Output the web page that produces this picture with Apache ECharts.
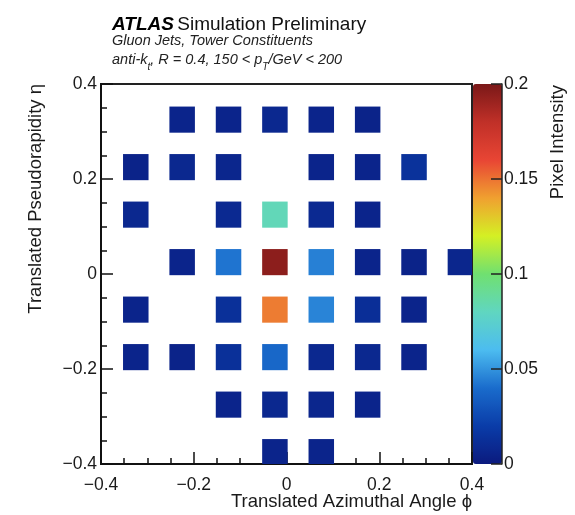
<!DOCTYPE html>
<html>
<head>
<meta charset="utf-8">
<script src="https://cdn.jsdelivr.net/npm/echarts@6/dist/echarts.min.js"></script>
<style>
  html, body { margin: 0; padding: 0; background: #fff; }
  #chart { width: 575px; height: 515px; }
</style>
</head>
<body>
<div id="chart"></div>
<script>
// tower centres (translated phi / eta)
const phiBins = [-0.325, -0.225, -0.125, -0.025, 0.075, 0.175, 0.275, 0.375];
const etaBins = [0.325, 0.225, 0.125, 0.025, -0.075, -0.175, -0.275, -0.375];
const cellSize = 0.055;

// pixel intensity, one row per eta bin (top to bottom), null = empty
const row1 = [null, 0.006, 0.006, 0.008, 0.006, 0.005, null, null];
const row2 = [0.005, 0.008, 0.007, null, 0.006, 0.006, 0.014, null];
const row3 = [0.008, null, 0.009, 0.082, 0.009, 0.006, null, null];
const row4 = [null, 0.006, 0.042, 0.195, 0.045, 0.006, 0.005, 0.007];
const row5 = [0.006, null, 0.013, 0.148, 0.046, 0.012, 0.006, null];
const row6 = [0.006, 0.005, 0.013, 0.038, 0.008, 0.008, 0.006, null];
const row7 = [null, null, 0.006, 0.008, 0.007, 0.006, null, null];
const row8 = [null, null, null, 0.006, 0.006, null, null, null];
const intensity = [row1, row2, row3, row4, row5, row6, row7, row8];

const axisTicks = [-0.4, -0.2, 0, 0.2, 0.4];
const zTicks = [0, 0.05, 0.1, 0.15, 0.2];

// palette from 0 to 0.2
const palette = ['#0b1a7e', '#0a3ca8', '#1a6ccc', '#4cbcf0', '#60d6c0', '#70e070',
  '#d4f024', '#f0a030', '#e84534', '#c03028', '#7a1818'];

const cells = [];
etaBins.forEach((eta, i) => {
  phiBins.forEach((phi, j) => {
    const v = intensity[i][j];
    if (v !== null) cells.push([phi, eta, v]);
  });
});

const fmt = v => {
  if (Math.abs(v) < 1e-9) return '0';
  return String(+v.toFixed(2)).replace('-', '\u2212');
};

const font = 'Liberation Sans, Arial, Helvetica, sans-serif';
const txt = '#1a1a1a';

const chart = echarts.init(document.getElementById('chart'));

const renderCell = (params, api) => {
  const x = api.value(0), y = api.value(1);
  const p0 = api.coord([x - cellSize / 2, y + cellSize / 2]);
  const p1 = api.coord([x + cellSize / 2, y - cellSize / 2]);
  const rect = echarts.graphic.clipRectByRect(
    {x: p0[0], y: p0[1], width: p1[0] - p0[0], height: p1[1] - p0[1]},
    {x: params.coordSys.x, y: params.coordSys.y, width: params.coordSys.width, height: params.coordSys.height}
  );
  if (!rect) return;
  return {type: 'rect', shape: rect, style: {fill: api.visual('color')}};
};

const mainAxis = (pos) => ({
  type: 'value',
  gridIndex: 0,
  position: pos,
  min: axisTicks[0],
  max: axisTicks[axisTicks.length - 1],
  interval: 0.2,
  axisLine: {show: true, onZero: false, lineStyle: {color: '#111', width: 2}},
  axisTick: {show: true, inside: true, length: 12, lineStyle: {color: '#111', width: 1.5}},
  minorTick: {show: true, splitNumber: 4, length: 6, lineStyle: {color: '#111', width: 1.5}},
  splitLine: {show: false},
  axisLabel: {
    formatter: fmt, color: txt, fontFamily: font, fontSize: 17.5,
    margin: pos === 'left' ? 4 : 12, showMinLabel: true, showMaxLabel: true
  }
});

const option = {
  animation: false,
  backgroundColor: '#fff',
  grid: [
    {left: 101, right: 103, top: 84, bottom: 51, show: true, borderColor: '#222', borderWidth: 2},
    {left: 473, width: 29, top: 84, bottom: 51, show: false}
  ],
  xAxis: [
    mainAxis('bottom'),
    {type: 'value', gridIndex: 1, min: 0, max: 1, show: false}
  ],
  yAxis: [
    mainAxis('left'),
    {
      type: 'value', gridIndex: 1, position: 'right', z: 10,
      min: zTicks[0], max: zTicks[zTicks.length - 1], interval: 0.05,
      axisLine: {show: true, onZero: false, lineStyle: {color: '#222', width: 1.5}},
      axisTick: {show: true, inside: true, length: 11, lineStyle: {color: '#222', width: 1.5}},
      splitLine: {show: false},
      axisLabel: {formatter: fmt, color: txt, fontFamily: font, fontSize: 17.5, margin: 2,
        showMinLabel: true, showMaxLabel: true}
    }
  ],
  visualMap: {
    type: 'continuous',
    min: 0,
    max: 0.2,
    dimension: 2,
    seriesIndex: 0,
    calculable: false,
    hoverLink: false,
    padding: 0,
    left: 473,
    top: 84,
    itemWidth: 29,
    itemHeight: 380,
    text: null,
    inRange: {color: palette}
  },
  graphic: [
    {type: 'text', left: 112, top: 15, style: {
      text: '{a|ATLAS} {b|Simulation Preliminary}',
      rich: {
        a: {fontFamily: font, fontSize: 19, fontWeight: 'bold', fontStyle: 'italic', fill: '#000'},
        b: {fontFamily: font, fontSize: 19, fill: '#111'}
      }
    }},
    {type: 'text', left: 112, top: 33, style: {
      text: 'Gluon Jets, Tower Constituents',
      fontFamily: font, fontSize: 14.5, fontStyle: 'italic', fill: '#222'
    }},
    {type: 'text', left: 112, top: 52, style: {
      text: '{i|anti-k}{s|t}{i|, R = 0.4, 150 < p}{s|T}{i|/GeV < 200}',
      rich: {
        i: {fontFamily: font, fontSize: 14.5, fontStyle: 'italic', fill: '#222', verticalAlign: 'top', lineHeight: 20},
        s: {fontFamily: font, fontSize: 10, fontStyle: 'italic', fill: '#222', verticalAlign: 'bottom', lineHeight: 20}
      }
    }},
    {type: 'text', x: 472, y: 502, style: {
      text: 'Translated Azimuthal Angle \u03d5', align: 'right', verticalAlign: 'middle',
      fontFamily: font, fontSize: 18.5, fill: txt
    }},
    {type: 'text', x: 36, y: 84, rotation: Math.PI / 2, style: {
      text: 'Translated Pseudorapidity \u03b7', align: 'right', verticalAlign: 'middle',
      fontFamily: font, fontSize: 18.5, fill: txt
    }},
    {type: 'text', x: 558, y: 85, rotation: Math.PI / 2, style: {
      text: 'Pixel Intensity', align: 'right', verticalAlign: 'middle',
      fontFamily: font, fontSize: 18.5, fill: txt
    }}
  ],
  series: [
    {
      type: 'custom',
      xAxisIndex: 0,
      yAxisIndex: 0,
      renderItem: renderCell,
      encode: {x: 0, y: 1},
      data: cells
    }
  ]
};

chart.setOption(option);
</script>
</body>
</html>
